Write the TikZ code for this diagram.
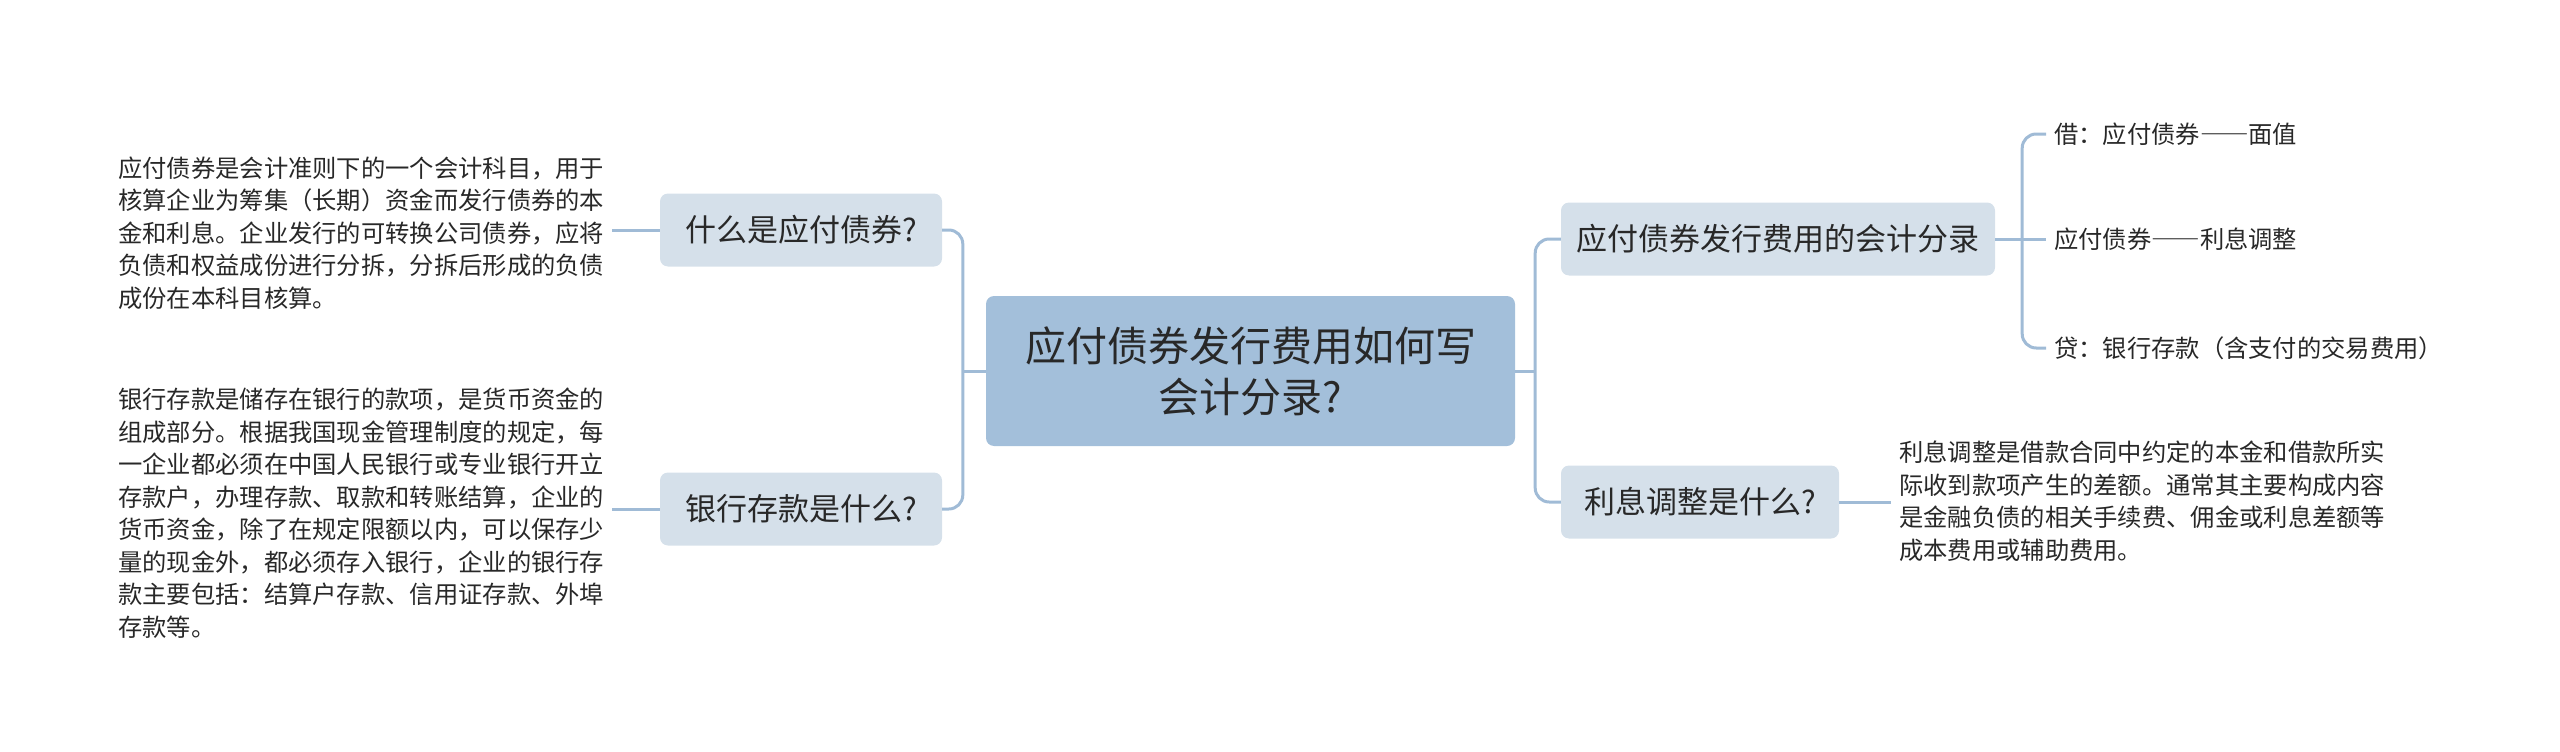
\documentclass[tikz,border=0pt]{standalone}
\usepackage{fontspec}
\setmainfont{Noto Sans CJK SC}
\newcommand{\fwdash}{{\addfontfeatures{RawFeature=+fwid}——}}
\definecolor{rootc}{RGB}{163,191,218}
\definecolor{branchc}{RGB}{213,224,234}
\definecolor{linec}{RGB}{160,187,214}
\definecolor{txt}{RGB}{40,40,40}
\begin{document}
\begin{tikzpicture}[x=1pt,y=-1pt,
  root/.style={fill=rootc, rounded corners=8pt, minimum width=529pt, minimum height=150pt, align=center, text=txt, font=\fontsize{41}{51}\selectfont, inner sep=0pt},
  branch/.style={fill=branchc, rounded corners=8pt, minimum height=73pt, text=txt, font=\fontsize{31}{38}\selectfont, inner sep=0pt},
  leaf/.style={align=left, text=txt, font=\fontsize{24.3}{32.5}\selectfont, inner xsep=8pt, inner ysep=0pt},
  conn/.style={draw=linec, line width=3pt, rounded corners=14pt}]
\useasboundingbox (0,0) rectangle (2560,752);

\node[root] (c) at (1250.5,371) {应付债券发行费用如何写\\会计分录?};

\node[branch, minimum width=282pt] (b1) at (801,230) {什么是应付债券?};
\node[branch, minimum width=282pt] (b2) at (801,509) {银行存款是什么?};
\node[branch, minimum width=434pt] (r1) at (1778,239) {应付债券发行费用的会计分录};
\node[branch, minimum width=278pt] (r2) at (1700,502) {利息调整是什么?};

\node[leaf, anchor=west] (l1) at (110,233) {应付债券是会计准则下的一个会计科目，用于\\核算企业为筹集（长期）资金而发行债券的本\\金和利息。企业发行的可转换公司债券，应将\\负债和权益成份进行分拆，分拆后形成的负债\\成份在本科目核算。};
\node[leaf, anchor=west] (l2) at (110,513) {银行存款是储存在银行的款项，是货币资金的\\组成部分。根据我国现金管理制度的规定，每\\一企业都必须在中国人民银行或专业银行开立\\存款户，办理存款、取款和转账结算，企业的\\货币资金，除了在规定限额以内，可以保存少\\量的现金外，都必须存入银行，企业的银行存\\款主要包括：结算户存款、信用证存款、外埠\\存款等。};
\node[leaf, anchor=west] (la) at (2046,134) {借：应付债券\fwdash 面值};
\node[leaf, anchor=west] (lb) at (2046,239) {应付债券\fwdash 利息调整};
\node[leaf, anchor=west] (lc) at (2046,348) {贷：银行存款（含支付的交易费用）};
\node[leaf, anchor=west] (l5) at (1891,501) {利息调整是借款合同中约定的本金和借款所实\\际收到款项产生的差额。通常其主要构成内容\\是金融负债的相关手续费、佣金或利息差额等\\成本费用或辅助费用。};

\coordinate (busL) at ([xshift=-23pt]c.west);
\coordinate (busR) at ([xshift=20pt]c.east);
\coordinate (busR1) at ([xshift=27pt]r1.east);

\draw[conn] (c.west) -- (busL);
\draw[conn] (b1.east) -| (busL) |- (b2.east);
\draw[conn] (c.east) -- (busR);
\draw[conn] (r1.west) -| (busR) |- (r2.west);
\draw[conn] (r1.east) -- (lb.west);
\draw[conn] (la.west) -| (busR1) |- (lc.west);
\draw[conn] (b1.west) -- (b1.west -| l1.east);
\draw[conn] (b2.west) -- (b2.west -| l2.east);
\draw[conn] (r2.east) -- (r2.east -| l5.west);
\end{tikzpicture}
\end{document}
